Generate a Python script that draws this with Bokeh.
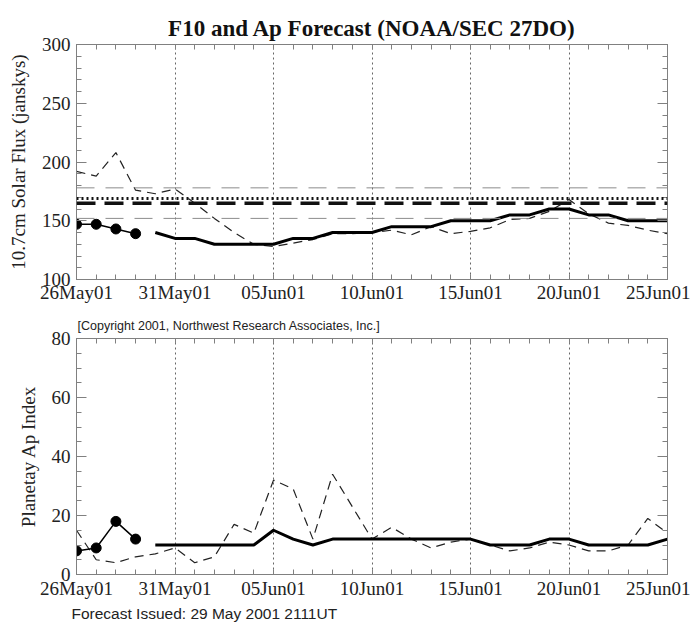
from bokeh.plotting import figure
from bokeh.models import Range1d, FixedTicker, LinearAxis, Span, Title
from bokeh.layouts import column
from bokeh.embed import file_html
from bokeh.resources import INLINE

# ---------------- data ----------------
date_ticks = [0, 5, 10, 15, 20, 25, 30]
date_labels = ["26May01", "31May01", "05Jun01", "10Jun01", "15Jun01", "20Jun01", "25Jun01"]
all_days = [0, 1, 2, 3, 4, 5, 6, 7, 8, 9, 10, 11, 12, 13, 14, 15,
            16, 17, 18, 19, 20, 21, 22, 23, 24, 25, 26, 27, 28, 29, 30]
obs_days = [0, 1, 2, 3]
fc_days = [4, 5, 6, 7, 8, 9, 10, 11, 12, 13, 14, 15, 16, 17, 18, 19,
           20, 21, 22, 23, 24, 25, 26, 27, 28, 29, 30]

f10_obs = [147, 147, 143, 139]
f10_fc = [140, 135, 135, 130, 130, 130, 130, 135, 135, 140, 140, 140, 145, 145,
          145, 150, 150, 150, 155, 155, 160, 160, 155, 155, 150, 150, 150]
f10_prev = [192, 188, 208, 176, 173, 177, 165, 152, 140, 130, 128, 131, 134, 139,
            139, 140, 142, 138, 145, 139, 141, 144, 151, 152, 158, 168, 156, 148,
            146, 142, 139]
f10_mean = 165
f10_mean_obs = 169
f10_band = [178, 152]

ap_obs = [8, 9, 18, 12]
ap_fc = [10, 10, 10, 10, 10, 10, 15, 12, 10, 12, 12, 12, 12, 12, 12, 12, 12,
         10, 10, 10, 12, 12, 10, 10, 10, 10, 12]
ap_prev = [15, 5, 4, 6, 7, 9, 4, 6, 17, 14, 32, 29, 12, 34, 23, 12, 16, 12, 9,
           11, 12, 10, 8, 9, 11, 10, 8, 8, 10, 19, 14]

f10_ticks = [100, 150, 200, 250, 300]
f10_minor = [100, 110, 120, 130, 140, 150, 160, 170, 180, 190, 200, 210, 220,
             230, 240, 250, 260, 270, 280, 290, 300]
ap_ticks = [0, 20, 40, 60, 80]
ap_minor = [0, 5, 10, 15, 20, 25, 30, 35, 40, 45, 50, 55, 60, 65, 70, 75, 80]

SERIF = "Liberation Serif"
SANS = "Liberation Sans"
GRAY = "#808080"


def style_axis(ax):
    ax.axis_line_color = GRAY
    ax.major_tick_line_color = GRAY
    ax.minor_tick_line_color = GRAY
    ax.major_tick_in = 10
    ax.major_tick_out = 0
    ax.minor_tick_in = 5
    ax.minor_tick_out = 0
    ax.major_label_text_font = SERIF
    ax.major_label_text_font_size = "19px"
    ax.major_label_text_color = "#222222"
    ax.major_label_standoff = 5
    ax.axis_label_text_font = SERIF
    ax.axis_label_text_font_style = "normal"
    ax.axis_label_text_color = "#222222"


def tick_only_axis(minor_values, length):
    ax = LinearAxis(ticker=FixedTicker(ticks=[], minor_ticks=minor_values))
    ax.axis_line_color = GRAY
    ax.minor_tick_line_color = GRAY
    ax.major_tick_line_color = None
    ax.minor_tick_in = length
    ax.minor_tick_out = 0
    ax.major_tick_in = 0
    ax.major_tick_out = 0
    ax.major_label_standoff = 0
    return ax


def make_panel(height, yr, yticks, yminor, ylabel, top_border, bottom_border, x_standoff):
    p = figure(width=690, height=height, x_range=Range1d(0, 30), y_range=yr,
               output_backend="svg", toolbar_location=None,
               min_border_left=76, min_border_right=23,
               min_border_top=top_border, min_border_bottom=bottom_border)
    p.outline_line_color = GRAY
    p.background_fill_color = "white"
    p.border_fill_color = "white"

    xt = FixedTicker(ticks=date_ticks, minor_ticks=all_days)
    yt = FixedTicker(ticks=yticks, minor_ticks=yminor)

    xa = p.xaxis[0]
    xa.ticker = xt
    xa.major_label_overrides = {t: l for t, l in zip(date_ticks, date_labels)}
    style_axis(xa)
    xa.major_tick_in = 5
    xa.major_label_standoff = x_standoff

    ya = p.yaxis[0]
    ya.ticker = yt
    ya.axis_label = ylabel
    ya.axis_label_standoff = 10
    ya.axis_label_text_font_size = "19px"
    style_axis(ya)
    ya.major_label_standoff = 6

    p.add_layout(tick_only_axis(all_days, 5), "above")
    p.add_layout(tick_only_axis(yticks, 10), "right")
    p.add_layout(tick_only_axis(yminor, 5), "right")

    p.ygrid.visible = False
    p.xgrid.ticker = FixedTicker(ticks=date_ticks[1:-1])
    p.xgrid.grid_line_color = "#666666"
    p.xgrid.grid_line_dash = "2 3"
    p.xgrid.grid_line_width = 1
    return p


# ---------------- top panel ----------------
p1 = make_panel(310, Range1d(100, 300), f10_ticks, f10_minor,
                "10.7cm Solar Flux (janskys)", 44, 31, 2)
p1.title.text = "F10 and Ap Forecast (NOAA/SEC 27DO)"
p1.title.align = "center"
p1.title.text_font = SERIF
p1.title.text_font_size = "23px"
p1.title.text_font_style = "bold"
p1.title.text_color = "#111111"
p1.title.standoff = 8

for lvl in f10_band:
    p1.add_layout(Span(location=lvl, dimension="width", line_color="#8c8c8c",
                       line_width=1, line_dash="18 11"))
p1.add_layout(Span(location=f10_mean_obs, dimension="width", line_color="#111111",
                   line_width=3, line_dash="2 3"))
p1.add_layout(Span(location=f10_mean, dimension="width", line_color="#111111",
                   line_width=3.5, line_dash="19 9"))

p1.line(all_days, f10_prev, line_color="#222222", line_width=1.2, line_dash="9 6")
p1.line(fc_days, f10_fc, line_color="black", line_width=3)
p1.line(obs_days, f10_obs, line_color="black", line_width=1.5)
p1.scatter(obs_days, f10_obs, size=10, color="black")

# ---------------- bottom panel ----------------
p2 = make_panel(313, Range1d(0, 80), ap_ticks, ap_minor,
                "Planetay Ap Index", 28, 48, 3)
p2.title.text = "[Copyright 2001, Northwest Research Associates, Inc.]"
p2.title.align = "left"
p2.title.offset = 1
p2.title.text_font = SANS
p2.title.text_font_size = "12.5px"
p2.title.text_font_style = "normal"
p2.title.text_color = "#222222"
p2.title.standoff = 12

p2.line(all_days, ap_prev, line_color="#222222", line_width=1.2, line_dash="9 6")
p2.line(fc_days, ap_fc, line_color="black", line_width=3)
p2.line(obs_days, ap_obs, line_color="black", line_width=1.5)
p2.scatter(obs_days, ap_obs, size=10, color="black")

fi = Title(text="Forecast Issued: 29 May 2001 2111UT",
           align="left", text_font=SANS, text_font_size="15.5px",
           text_font_style="normal", text_color="#222222", standoff=3, offset=-5)
p2.add_layout(fi, "below")

layout = column(p1, p2, spacing=0)
open("out.html", "w").write(file_html(layout, INLINE))
